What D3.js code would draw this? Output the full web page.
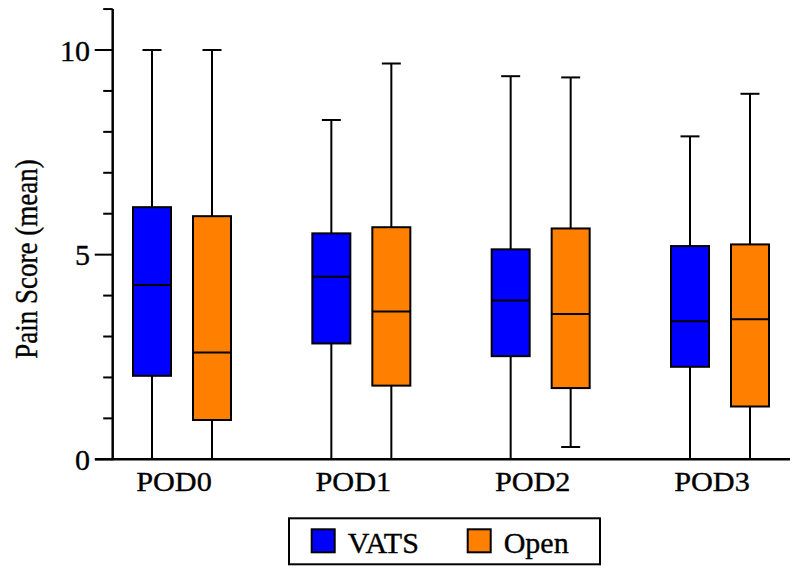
<!DOCTYPE html>
<html><head><meta charset="utf-8">
<script src="https://cdn.jsdelivr.net/npm/d3@7"></script>
<style>body{margin:0;background:#fff}svg{display:block}text{font-family:"Liberation Serif","Times New Roman",serif;fill:#000;stroke:#000;stroke-width:0.35px}</style>
</head><body>
<svg id="c" width="800" height="574"></svg>
<script>
const categories = ["POD0","POD1","POD2","POD3"];
const seriesNames = ["VATS","Open"];
const seriesColors = ["#0000ff","#ff8000"];
// [min, q1, median, q3, max]
const vatsStats = [
  [0, 2.04, 4.26, 6.16, 10.0],
  [0, 2.83, 4.46, 5.52, 8.29],
  [0, 2.52, 3.88, 5.13, 9.36],
  [0, 2.26, 3.37, 5.21, 7.89]
];
const openStats = [
  [0, 0.96, 2.61, 5.94, 10.0],
  [0, 1.80, 3.61, 5.67, 9.67],
  [0.30, 1.74, 3.55, 5.64, 9.33],
  [0, 1.29, 3.42, 5.25, 8.93]
];
const yTickLabels = [0, 5, 10];
const yMinorTicks = d3.range(0, 12);
const yLabel = "Pain Score (mean)";

const svg = d3.select("#c");
const axisX = 112.7, baseY = 459.3;
const y = d3.scaleLinear().domain([0, 11]).range([baseY, baseY - 11*40.93]);
const x = d3.scalePoint().domain(categories).range([182, 720]);
const sub = d3.scaleBand().domain(seriesNames).range([-60, 60]).paddingInner(0).paddingOuter(0);
const boxW = 38, capW = 19;

const series = [vatsStats, openStats];
series.forEach((stats, si) => {
  const g = svg.append("g");
  categories.forEach((c, ci) => {
    const s = stats[ci];
    const cx = x(c) + sub(seriesNames[si]) + sub.bandwidth()/2;
    g.append("line").attr("x1", cx).attr("x2", cx).attr("y1", y(s[0])).attr("y2", y(s[4]))
      .attr("stroke", "#000").attr("stroke-width", 2);
    [s[0], s[4]].forEach(v => {
      if (v > 0) g.append("line").attr("x1", cx - capW/2).attr("x2", cx + capW/2)
        .attr("y1", y(v)).attr("y2", y(v)).attr("stroke", "#000").attr("stroke-width", 2);
    });
    g.append("rect").attr("x", cx - boxW/2).attr("width", boxW)
      .attr("y", y(s[3])).attr("height", y(s[1]) - y(s[3]))
      .attr("fill", seriesColors[si]).attr("stroke", "#000").attr("stroke-width", 2);
    g.append("line").attr("x1", cx - boxW/2).attr("x2", cx + boxW/2)
      .attr("y1", y(s[2])).attr("y2", y(s[2])).attr("stroke", "#000").attr("stroke-width", 2);
  });
});

// Y axis
const ya = svg.append("g");
ya.append("line").attr("x1", axisX).attr("x2", axisX).attr("y1", y(11)).attr("y2", baseY + 1)
  .attr("stroke", "#000").attr("stroke-width", 2.5);
yMinorTicks.forEach(v => {
  const major = yTickLabels.includes(v);
  ya.append("line").attr("x1", axisX - (major ? 18 : 9.5)).attr("x2", axisX)
    .attr("y1", y(v)).attr("y2", y(v)).attr("stroke", "#000").attr("stroke-width", 2);
});
yTickLabels.forEach(v => {
  ya.append("text").attr("x", 90).attr("y", y(v)).attr("dy", "0.35em")
    .attr("text-anchor", "end").attr("font-size", 30).text(v);
});
// X axis
svg.append("line").attr("x1", 95).attr("x2", 790).attr("y1", baseY).attr("y2", baseY)
  .attr("stroke", "#000").attr("stroke-width", 2.5);
categories.forEach(c => {
  const cx = x(c) - 8;
  svg.append("text").attr("x", cx).attr("y", 490.7).attr("text-anchor", "middle")
    .attr("font-size", 28).attr("transform", `translate(${cx},0) scale(1.08,1) translate(${-cx},0)`).text(c);
});
// Y label
svg.append("text").attr("transform", "translate(36.5,259) rotate(-90) scale(1,1.15)").attr("text-anchor", "middle")
  .attr("font-size", 27).text(yLabel);

// Legend
const lg = svg.append("g");
lg.append("rect").attr("x", 289).attr("y", 518.3).attr("width", 311).attr("height", 46)
  .attr("fill", "#fff").attr("stroke", "#000").attr("stroke-width", 2);
const legX = [311.7, 467.7];
seriesNames.forEach((n, i) => {
  lg.append("rect").attr("x", legX[i]).attr("y", 529.3).attr("width", 23).attr("height", 23)
    .attr("fill", seriesColors[i]).attr("stroke", "#000").attr("stroke-width", 2);
  lg.append("text").attr("x", legX[i] + 36).attr("y", 553).attr("font-size", 30).text(n);
});
</script>
</body></html>
